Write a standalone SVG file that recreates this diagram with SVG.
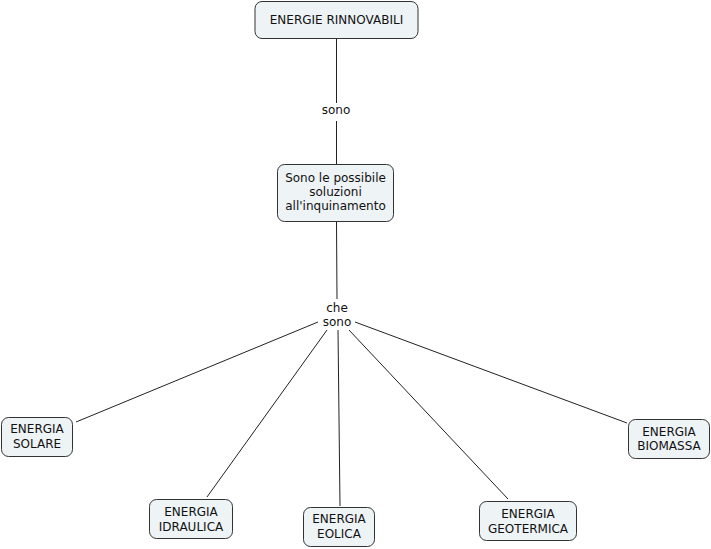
<svg xmlns="http://www.w3.org/2000/svg" width="711" height="549" viewBox="0 0 711 549">
<style>
.n rect{fill:#eef3f6;stroke:#333;stroke-width:1}
text{font-family:"DejaVu Sans","Verdana",sans-serif;font-size:12px;fill:#111;text-anchor:middle}
.c line{stroke:#222;stroke-width:1}
</style>
<rect width="711" height="549" fill="#fff"/>
<g class="c" id="connectors">
<line x1="336.5" y1="39" x2="336.5" y2="103"/>
<line x1="336.5" y1="121" x2="336.5" y2="164"/>
<line x1="336.5" y1="222" x2="337" y2="299"/>
<line x1="318" y1="322" x2="76" y2="422"/>
<line x1="327" y1="330" x2="207" y2="497"/>
<line x1="338" y1="330" x2="340" y2="506"/>
<line x1="349" y1="330" x2="508" y2="499"/>
<line x1="355" y1="322" x2="627" y2="423"/>
<text x="336" y="114">sono</text>
<text x="337" y="312">che</text>
<text x="337" y="326">sono</text>
</g>
<g class="n" id="energie-rinnovabili">
<rect x="255" y="1.5" width="163" height="37" rx="7"/>
<text x="336.5" y="24">ENERGIE RINNOVABILI</text>
</g>
<g class="n" id="soluzioni">
<rect x="277.5" y="164.5" width="116" height="57" rx="7"/>
<text x="335.5" y="182">Sono le possibile</text>
<text x="335.5" y="196">soluzioni</text>
<text x="335.5" y="210">all'inquinamento</text>
</g>
<g class="n" id="solare">
<rect x="1.5" y="417.5" width="71" height="39" rx="7"/>
<text x="37" y="433">ENERGIA</text>
<text x="37" y="448">SOLARE</text>
</g>
<g class="n" id="idraulica">
<rect x="149.5" y="499.5" width="83" height="39" rx="7"/>
<text x="191" y="516">ENERGIA</text>
<text x="191" y="531">IDRAULICA</text>
</g>
<g class="n" id="eolica">
<rect x="303.5" y="507.5" width="71" height="39" rx="7"/>
<text x="339" y="523">ENERGIA</text>
<text x="339" y="538">EOLICA</text>
</g>
<g class="n" id="geotermica">
<rect x="479.5" y="501.5" width="97" height="39" rx="7"/>
<text x="528" y="518">ENERGIA</text>
<text x="528" y="533">GEOTERMICA</text>
</g>
<g class="n" id="biomassa">
<rect x="628.5" y="419.5" width="81" height="39" rx="7"/>
<text x="669" y="436">ENERGIA</text>
<text x="669" y="450">BIOMASSA</text>
</g>
</svg>
